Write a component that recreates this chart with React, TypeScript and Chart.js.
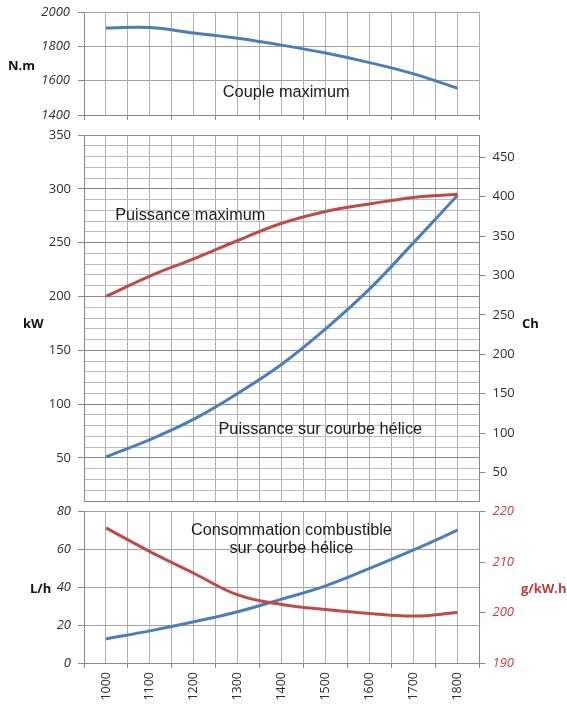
import React, { useEffect, useRef } from 'react';
import { Chart, registerables } from 'chart.js';

Chart.register(...registerables);

// ---------- data ----------
const RPM = [1000, 1100, 1200, 1300, 1400, 1500, 1600, 1700, 1800];
const TORQUE_NM = [1908, 1911, 1879, 1848, 1808, 1762, 1706, 1640, 1556];
const POWER_MAX_KW = [200, 219, 235, 252, 268, 279, 286, 292, 295];
const POWER_PROP_KW = [51, 67, 86, 110, 137, 170, 207, 250, 294];
const FUEL_LH = [12.8, 17, 21.8, 27.1, 33.8, 40.8, 50, 59.8, 70.2];
const SFC_GKWH = [216.8, 212.1, 207.8, 203.5, 201.6, 200.6, 199.8, 199.3, 200.0];

const TORQUE_TICKS = [1400, 1600, 1800, 2000];
const KW_MIN = 10;
const KW_MAX = 350;
const KW_MINOR_STEP = 10;
const KW_MAJOR_STEP = 50;
const KW_TO_CH = 1.367;
const CH_TICKS = [50, 100, 150, 200, 250, 300, 350, 400, 450];
const LH_TICKS = [0, 20, 40, 60, 80];
const SFC_TICKS = [190, 200, 210, 220];

// ---------- style ----------
const W = 567;
const PLOT_LEFT = 84;
const PLOT_RIGHT = 479.5;
const BLUE = '#4a7ebb';
const RED = '#be4b48';
const GRID_V = '#b0b0b0';
const GRID_H = '#a2a2a2';
const GRID_MAJOR = '#8a8a8a';
const GRID_MINOR = '#bababa';
const AXIS = '#888888';
const TICK_COLOR = '#2e2e2e';
const RED_TICK = '#d03a3a';
const RED_TITLE = '#c03a3a';
const TICK_FONT = "'Open Sans', 'DejaVu Sans', sans-serif";
const NOTE_FONT = "'Liberation Sans', Arial, sans-serif";
const TRANSPARENT = 'rgba(0,0,0,0)';

const HALF_STEP = (RPM[1] - RPM[0]) / 2;
const X_MIN = RPM[0] - HALF_STEP;
const X_MAX = RPM[RPM.length - 1] + HALF_STEP;
const X_GRID: number[] = [];
RPM.forEach((v) => {
  X_GRID.push(v - HALF_STEP, v);
});
X_GRID.push(X_MAX);
const X_BOUNDARIES = new Set(X_GRID.filter((v) => !RPM.includes(v)));

type TextItem = {
  text: string;
  font: string;
  color: string;
  align?: CanvasTextAlign;
  x?: number; // data value on x
  px?: number; // canvas x (for axis titles)
  y: number; // data value on yAxis
  yAxis: string;
};

function textPlugin(items: TextItem[]) {
  return {
    id: 'panelText',
    afterDraw(chart: any) {
      const ctx = chart.ctx as CanvasRenderingContext2D;
      items.forEach((it) => {
        ctx.save();
        ctx.font = it.font;
        ctx.fillStyle = it.color;
        ctx.textAlign = it.align || 'left';
        ctx.textBaseline = 'middle';
        const x = it.px !== undefined ? it.px : chart.scales.x.getPixelForValue(it.x);
        const y = chart.scales[it.yAxis].getPixelForValue(it.y);
        ctx.fillText(it.text, x, y);
        ctx.restore();
      });
    },
  };
}

function xScale(heightBelow: number, showLabels: boolean, tickMarks: boolean) {
  return {
    type: 'linear',
    position: 'bottom',
    min: X_MIN,
    max: X_MAX,
    afterBuildTicks: (s: any) => {
      s.ticks = X_GRID.map((v) => ({ value: v }));
    },
    ticks: {
      autoSkip: false,
      minRotation: showLabels ? 90 : 0,
      maxRotation: showLabels ? 90 : 0,
      padding: 4,
      color: TICK_COLOR,
      font: { family: TICK_FONT, size: 12.5 },
      callback: (v: number) => (showLabels && RPM.includes(v) ? String(v) : ''),
    },
    grid: {
      color: GRID_V,
      lineWidth: 1,
      drawTicks: true,
      tickLength: 5,
      tickColor: (c: any) =>
        tickMarks && c.tick && X_BOUNDARIES.has(c.tick.value) ? AXIS : TRANSPARENT,
    },
    border: { color: AXIS, width: 1 },
    afterFit: (s: any) => {
      s.height = heightBelow;
      s.paddingLeft = 0;
      s.paddingRight = 0;
    },
  };
}

function leftFit(s: any) {
  s.width = PLOT_LEFT;
  s.paddingTop = 0;
  s.paddingBottom = 0;
}
function rightFit(s: any) {
  s.width = W - PLOT_RIGHT;
  s.paddingTop = 0;
  s.paddingBottom = 0;
}

const lineDs = (data: number[], color: string, yAxisID: string) => ({
  data: RPM.map((x, i) => ({ x, y: data[i] })),
  borderColor: color,
  backgroundColor: color,
  borderWidth: 3,
  pointRadius: 0,
  tension: 0.4,
  fill: false,
  yAxisID,
});

const TITLE_FONT = `bold 13px ${TICK_FONT}`;
const NOTE = `16.3px ${NOTE_FONT}`;
const NOTE_COLOR = '#1a1a1a';

// ---------- panels ----------
const TOP = { top: 0, height: 128, plotTop: 12.3, plotBottom: 115 };
const MID = { top: 120, height: 385, plotTop: 135, plotBottom: 501 };
const BOT = { top: 495, height: 210, plotTop: 511.7, plotBottom: 663 };

function topConfig() {
  return {
    type: 'line',
    data: { datasets: [lineDs(TORQUE_NM, BLUE, 'y')] },
    options: {
      responsive: false,
      animation: false,
      events: [],
      layout: { padding: { left: 0, right: W - PLOT_RIGHT, top: TOP.plotTop - TOP.top, bottom: 0 } },
      plugins: { legend: { display: false }, tooltip: { enabled: false } },
      scales: {
        x: xScale(TOP.top + TOP.height - TOP.plotBottom, false, true),
        y: {
          type: 'linear',
          position: 'left',
          min: TORQUE_TICKS[0],
          max: TORQUE_TICKS[TORQUE_TICKS.length - 1],
          afterBuildTicks: (s: any) => {
            s.ticks = TORQUE_TICKS.map((v) => ({ value: v }));
          },
          ticks: {
            padding: 8,
            color: TICK_COLOR,
            font: { family: TICK_FONT, size: 13, style: 'italic' },
            callback: (v: number) => String(v),
          },
          grid: { color: GRID_H, tickLength: 6, tickColor: AXIS },
          border: { color: AXIS },
          afterFit: leftFit,
        },
      },
    },
    plugins: [
      textPlugin([
        { text: 'N.m', font: TITLE_FONT, color: '#111', px: 8, y: 1686, yAxis: 'y' },
        { text: 'Couple maximum', font: NOTE, color: NOTE_COLOR, x: 1266, y: 1532, yAxis: 'y' },
      ]),
    ],
  };
}

function midConfig() {
  return {
    type: 'line',
    data: {
      datasets: [lineDs(POWER_MAX_KW, RED, 'y'), lineDs(POWER_PROP_KW, BLUE, 'y')],
    },
    options: {
      responsive: false,
      animation: false,
      events: [],
      layout: { padding: { left: 0, right: 0, top: MID.plotTop - MID.top, bottom: 0 } },
      plugins: { legend: { display: false }, tooltip: { enabled: false } },
      scales: {
        x: xScale(MID.top + MID.height - MID.plotBottom, false, false),
        y: {
          type: 'linear',
          position: 'left',
          min: KW_MIN,
          max: KW_MAX,
          afterBuildTicks: (s: any) => {
            const t: any[] = [];
            for (let v = KW_MIN; v <= KW_MAX; v += KW_MINOR_STEP) t.push({ value: v });
            s.ticks = t;
          },
          ticks: {
            autoSkip: false,
            padding: 7,
            color: TICK_COLOR,
            font: { family: TICK_FONT, size: 13 },
            callback: (v: number) => (v % KW_MAJOR_STEP === 0 ? String(v) : ''),
          },
          grid: {
            color: (c: any) => (c.tick && c.tick.value % KW_MAJOR_STEP === 0 ? GRID_MAJOR : GRID_MINOR),
            tickLength: 6,
            tickColor: (c: any) => (c.tick && c.tick.value % KW_MAJOR_STEP === 0 ? AXIS : TRANSPARENT),
          },
          border: { color: AXIS },
          afterFit: leftFit,
        },
        y2: {
          type: 'linear',
          position: 'right',
          min: KW_MIN * KW_TO_CH,
          max: KW_MAX * KW_TO_CH,
          afterBuildTicks: (s: any) => {
            s.ticks = CH_TICKS.map((v) => ({ value: v }));
          },
          ticks: {
            autoSkip: false,
            padding: 7,
            color: TICK_COLOR,
            font: { family: TICK_FONT, size: 13 },
            callback: (v: number) => String(v),
          },
          grid: { drawOnChartArea: false, tickLength: 6, tickColor: AXIS },
          border: { color: AXIS },
          afterFit: rightFit,
        },
      },
    },
    plugins: [
      textPlugin([
        { text: 'kW', font: TITLE_FONT, color: '#111', px: 23, y: 174, yAxis: 'y' },
        { text: 'Ch', font: TITLE_FONT, color: '#111', px: 522, y: 174, yAxis: 'y' },
        { text: 'Puissance maximum', font: NOTE, color: NOTE_COLOR, x: 1021, y: 275.5, yAxis: 'y' },
        { text: 'Puissance sur courbe hélice', font: NOTE, color: NOTE_COLOR, x: 1256, y: 76, yAxis: 'y' },
      ]),
    ],
  };
}

function botConfig() {
  return {
    type: 'line',
    data: {
      datasets: [lineDs(SFC_GKWH, RED, 'y2'), lineDs(FUEL_LH, BLUE, 'y')],
    },
    options: {
      responsive: false,
      animation: false,
      events: [],
      layout: { padding: { left: 0, right: 0, top: BOT.plotTop - BOT.top, bottom: 0 } },
      plugins: { legend: { display: false }, tooltip: { enabled: false } },
      scales: {
        x: xScale(BOT.top + BOT.height - BOT.plotBottom, true, true),
        y: {
          type: 'linear',
          position: 'left',
          min: LH_TICKS[0],
          max: LH_TICKS[LH_TICKS.length - 1],
          afterBuildTicks: (s: any) => {
            s.ticks = LH_TICKS.map((v) => ({ value: v }));
          },
          ticks: {
            padding: 7,
            color: TICK_COLOR,
            font: { family: TICK_FONT, size: 13, style: 'italic' },
            callback: (v: number) => String(v),
          },
          grid: { color: GRID_H, tickLength: 6, tickColor: AXIS },
          border: { color: AXIS },
          afterFit: leftFit,
        },
        y2: {
          type: 'linear',
          position: 'right',
          min: SFC_TICKS[0],
          max: SFC_TICKS[SFC_TICKS.length - 1],
          afterBuildTicks: (s: any) => {
            s.ticks = SFC_TICKS.map((v) => ({ value: v }));
          },
          ticks: {
            padding: 7,
            color: RED_TICK,
            font: { family: TICK_FONT, size: 13, style: 'italic' },
            callback: (v: number) => String(v),
          },
          grid: { drawOnChartArea: false, tickLength: 6, tickColor: AXIS },
          border: { color: AXIS },
          afterFit: rightFit,
        },
      },
    },
    plugins: [
      textPlugin([
        { text: 'L/h', font: TITLE_FONT, color: '#111', px: 30, y: 39, yAxis: 'y' },
        { text: 'g/kW.h', font: TITLE_FONT, color: RED_TITLE, px: 521, y: 39, yAxis: 'y' },
        { text: 'Consommation combustible', font: NOTE, color: NOTE_COLOR, align: 'center', x: 1422, y: 70.3, yAxis: 'y' },
        { text: 'sur courbe hélice', font: NOTE, color: NOTE_COLOR, align: 'center', x: 1422, y: 60.6, yAxis: 'y' },
      ]),
    ],
  };
}

function Panel({ top, height, config }: { top: number; height: number; config: () => any }) {
  const ref = useRef<HTMLCanvasElement>(null);
  useEffect(() => {
    if (!ref.current) return;
    const chart = new Chart(ref.current, config());
    return () => chart.destroy();
  }, []);
  return (
    <canvas
      ref={ref}
      width={W}
      height={height}
      style={{ position: 'absolute', left: 0, top, width: W, height }}
    />
  );
}

export default function App() {
  return (
    <div style={{ position: 'absolute', left: 0, top: 0, width: W, height: 705, background: '#ffffff' }}>
      <Panel top={TOP.top} height={TOP.height} config={topConfig} />
      <Panel top={MID.top} height={MID.height} config={midConfig} />
      <Panel top={BOT.top} height={BOT.height} config={botConfig} />
    </div>
  );
}
